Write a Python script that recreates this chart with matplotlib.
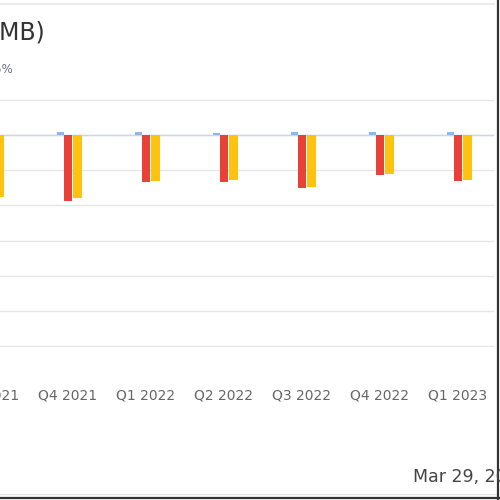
import matplotlib
matplotlib.use("Agg")
import matplotlib.pyplot as plt
from matplotlib.lines import Line2D
import numpy as np

quarters = ["Q3 2021", "Q4 2021", "Q1 2022", "Q2 2022", "Q3 2022", "Q4 2022", "Q1 2023"]
blue_vals = [0.007, 0.007, 0.007, 0.004, 0.007, 0.007, 0.007]
red_vals = [-0.180, -0.189, -0.135, -0.135, -0.152, -0.115, -0.130]
yellow_vals = [-0.175, -0.180, -0.130, -0.127, -0.149, -0.110, -0.127]
grid_ticks = [-0.6, -0.5, -0.4, -0.3, -0.2, -0.1, 0.0, 0.1]

W, H = 500, 500
fig = plt.figure(figsize=(5, 5), dpi=100)
fig.patch.set_facecolor("white")

def fx(p):
    return p / W

def fy(p):
    return 1 - p / H

left_px = -40
ax = fig.add_axes([fx(left_px), fy(347), fx(494 - left_px), fy(99) - fy(347)])
ax.set_facecolor("white")
x = np.arange(len(quarters))
bw = 0.115
ax.bar(x - 0.1, blue_vals, width=bw * 0.75, color="#8fb8ea", zorder=3)
ax.bar(x, red_vals, width=bw, color="#e8413a", zorder=3)
ax.bar(x + 0.12, yellow_vals, width=bw, color="#ffc20e", zorder=3)

ax.set_xticks(x)
ax.set_xticklabels(quarters, fontsize=10, color="#666666", family="DejaVu Sans")
ax.tick_params(axis="x", length=0, pad=30)
ax.set_yticks(grid_ticks)
ax.tick_params(axis="y", left=False, labelleft=False)
ax.set_xlim((left_px + 10) / 78, 504 / 78)
ax.set_ylim(-0.6015, 0.1015)
ax.yaxis.grid(True, color="#e6e6e6", linewidth=1.0, zorder=0)
ax.set_axisbelow(True)
ax.axhline(0, color="#ccd6eb", linewidth=1.0, zorder=1)
for s in ax.spines.values():
    s.set_visible(False)

fig.text(fx(45), fy(40), "Earnings Per Share (MB)", ha="right", va="baseline",
         fontsize=17, color="#333333")
fig.text(fx(13), fy(73), "Surprise: -5%", ha="right", va="baseline",
         fontsize=8.5, color="#666e80")
fig.text(fx(413), fy(482), "Mar 29, 2023", ha="left", va="baseline",
         fontsize=12.5, color="#444444")

fig.add_artist(Line2D([0, fx(494)], [fy(4), fy(4)], color="#ebebeb", linewidth=1.5))
fig.add_artist(Line2D([0, fx(496)], [fy(494), fy(494)], color="#e6e6e6", linewidth=1.0))
fig.add_artist(Line2D([fx(498), fx(498)], [0, 1], color="#333333", linewidth=1.6))
fig.add_artist(Line2D([0, 1], [fy(498), fy(498)], color="#333333", linewidth=1.6))

fig.savefig("out.png", dpi=100, facecolor="white")
